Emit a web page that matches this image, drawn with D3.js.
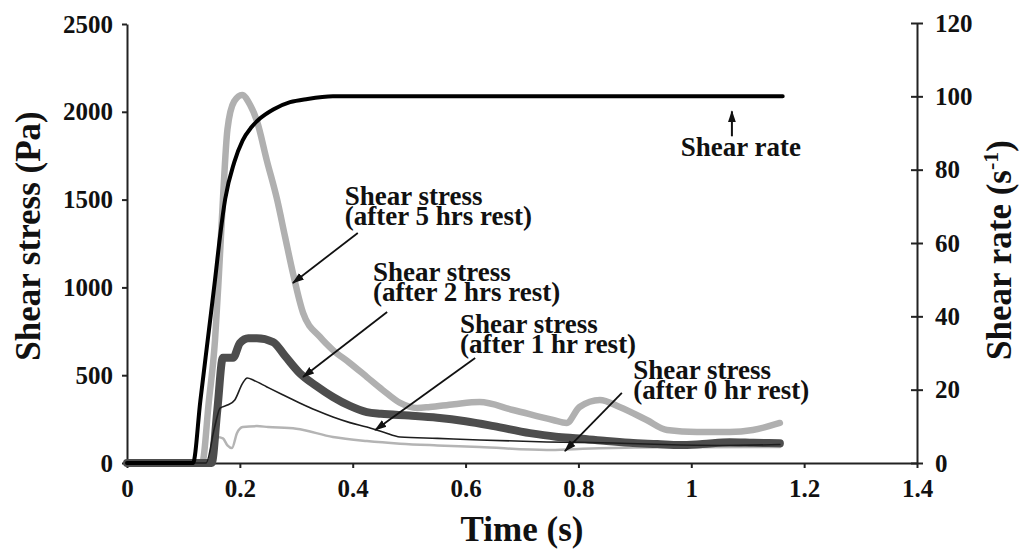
<!DOCTYPE html>
<html>
<head>
<meta charset="utf-8">
<script src="https://cdn.jsdelivr.net/npm/d3@7"></script>
<style>
  html, body { margin: 0; padding: 0; background: #fff; }
  .axis path, .axis line { stroke: #222; stroke-width: 2; }
</style>
</head>
<body>
<svg id="chart" width="1020" height="551"></svg>
<script>
// --- Data ---

const X_TICKS = [0, 0.2, 0.4, 0.6, 0.8, 1, 1.2, 1.4];
const STRESS_TICKS = [0, 500, 1000, 1500, 2000, 2500];
const RATE_TICKS = [0, 20, 40, 60, 80, 100, 120];

// shear rate (s-1)
const T_RATE = [0, 0.11, 0.117, 0.13, 0.145, 0.156, 0.165, 0.174, 0.19, 0.205, 0.22, 0.236, 0.26, 0.289, 0.32, 0.365, 0.5, 0.8, 1.0, 1.162];
const RATE = [0, 0, 0, 17, 36, 50, 62, 72, 82, 88, 91.5, 94, 96.5, 98.4, 99.3, 100, 100, 100, 100, 100];

// shear stress after 5 hrs rest (Pa)
const T_5HR = [0, 0.133, 0.145, 0.156, 0.163, 0.17, 0.178, 0.19, 0.204, 0.218, 0.23, 0.248, 0.266, 0.28, 0.294, 0.312, 0.342, 0.365, 0.395, 0.425, 0.453, 0.484, 0.514, 0.537, 0.58, 0.625, 0.684, 0.755, 0.779, 0.802, 0.838, 0.873, 0.921, 0.957, 1.01, 1.068, 1.109, 1.157];
const S_5HR = [0, 0, 350, 700, 1080, 1500, 1900, 2060, 2096, 2040, 1950, 1720, 1500, 1290, 1082, 855, 718, 643, 569, 490, 416, 342, 313, 319, 335, 347, 302, 245, 228, 319, 359, 319, 245, 188, 177, 177, 188, 228];

// shear stress after 2 hrs rest (Pa)
const T_2HR = [0, 0.15, 0.16, 0.17, 0.188, 0.2, 0.215, 0.23, 0.259, 0.28, 0.306, 0.335, 0.365, 0.395, 0.425, 0.45, 0.5, 0.55, 0.6, 0.65, 0.714, 0.76, 0.802, 0.85, 0.891, 0.94, 0.98, 1.02, 1.068, 1.11, 1.157];
const S_2HR = [0, 0, 300, 600, 600, 683, 711, 711, 689, 610, 512, 440, 376, 325, 290, 280, 270, 258, 238, 210, 170, 150, 140, 125, 115, 108, 102, 108, 118, 115, 112];

// shear stress after 1 hr rest (Pa)
const T_1HR = [0, 0.14, 0.155, 0.165, 0.178, 0.191, 0.205, 0.213, 0.225, 0.248, 0.275, 0.306, 0.335, 0.365, 0.395, 0.425, 0.455, 0.484, 0.55, 0.625, 0.744, 0.861, 0.95, 1.05, 1.157];
const S_1HR = [0, 0, 200, 313, 330, 359, 455, 484, 470, 433, 390, 342, 300, 262, 230, 205, 175, 148, 140, 131, 120, 114, 105, 100, 105];

// shear stress after 0 hr rest (Pa)
const T_0HR = [0, 0.145, 0.155, 0.16, 0.17, 0.178, 0.186, 0.195, 0.205, 0.23, 0.25, 0.3, 0.365, 0.425, 0.484, 0.55, 0.625, 0.744, 0.8, 0.9, 1.0, 1.157];
const S_0HR = [0, 0, 100, 148, 140, 100, 85, 171, 205, 210, 205, 195, 148, 125, 110, 100, 91, 74, 80, 88, 90, 91];

// annotation anchors, in data units (time, stress) or (time, rate)
const NOTE_LINES = [
  ["Shear stress", "(after 5 hrs rest)"],
  ["Shear stress", "(after 2 hrs rest)"],
  ["Shear stress", "(after 1 hr rest)"],
  ["Shear stress", "(after 0 hr rest)"],
];
const NOTE_AT = [[0.386, 1469], [0.436, 1036], [0.590, 740], [0.897, 478]];
const ARROW_FROM = [[0.409, 1310], [0.461, 860], [0.617, 598], [0.877, 399]];
const ARROW_TO = [[0.294, 1025], [0.312, 490], [0.440, 188], [0.776, 68]];

const RATE_NOTE_AT = [1.088, 83.6];
const RATE_ARROW = [[1.072, 89.1], [1.072, 95.9]];

// --- Layout ---

const FONT = '"Liberation Serif", "DejaVu Serif", serif';

const svg = d3.select("#chart");
const plotLeft = 127, plotRight = 917, plotTop = 23, plotBottom = 463;

const x = d3.scaleLinear().domain([0, 1.4]).range([plotLeft, plotRight]);
const yS = d3.scaleLinear().domain([0, 2500]).range([plotBottom, plotTop + 1]);
const yR = d3.scaleLinear().domain([0, 120]).range([plotBottom, plotTop]);

const defs = svg.append("defs");
defs.append("marker")
  .attr("id", "head")
  .attr("viewBox", "0 -5 12 10")
  .attr("refX", 11)
  .attr("refY", 0)
  .attr("markerUnits", "userSpaceOnUse")
  .attr("markerWidth", 12)
  .attr("markerHeight", 10)
  .attr("orient", "auto")
  .append("path")
  .attr("d", "M0,-4L12,0L0,4Z")
  .attr("fill", "#111");

// --- Axes ---

svg.append("g")
  .attr("class", "axis")
  .attr("transform", `translate(0,${plotBottom})`)
  .call(d3.axisBottom(x).tickValues(X_TICKS).tickFormat(d3.format("~g")).tickSize(5).tickSizeOuter(0).tickPadding(11));

svg.append("g")
  .attr("class", "axis")
  .attr("transform", `translate(${plotLeft},0)`)
  .call(d3.axisLeft(yS).tickValues(STRESS_TICKS).tickFormat(d3.format("d")).tickSize(5).tickSizeOuter(0).tickPadding(9));

const gr = svg.append("g")
  .attr("class", "axis")
  .attr("transform", `translate(${plotRight},0)`)
  .call(d3.axisRight(yR).tickValues(RATE_TICKS).tickFormat(d3.format("d")).tickSize(6).tickSizeOuter(0).tickPadding(12));
gr.selectAll(".tick line").attr("x1", -6);

svg.selectAll(".axis")
  .attr("font-family", FONT)
  .attr("font-size", 25);
svg.selectAll(".axis text")
  .attr("fill", "#111")
  .style("font-family", FONT)
  .style("font-weight", "bold")
  .style("font-size", "25px");
svg.selectAll(".axis .domain").attr("stroke-width", 2.2);

// --- Axis titles ---

function label(sel, size) {
  return sel
    .style("font-family", FONT)
    .style("font-weight", "bold")
    .style("font-size", size + "px")
    .attr("fill", "#111");
}

label(svg.append("text"), 35)
  .attr("x", 522)
  .attr("y", 541)
  .attr("text-anchor", "middle")
  .text("Time (s)");

label(svg.append("text"), 35)
  .attr("transform", "translate(40,236) rotate(-90)")
  .attr("text-anchor", "middle")
  .text("Shear stress (Pa)");

const rt = label(svg.append("text"), 35)
  .attr("transform", "translate(1011,250) rotate(-90)")
  .attr("text-anchor", "middle");
rt.append("tspan").text("Shear rate (s");
rt.append("tspan").attr("dy", -13).style("font-size", "22px").text("-1");
rt.append("tspan").attr("dy", 13).text(")");

// --- Curves ---

function drawSeries(ts, vs, scaleY, color, width) {
  const pts = ts.map((t, i) => [t, vs[i]]);
  svg.append("path")
    .datum(pts)
    .attr("fill", "none")
    .attr("stroke", color)
    .attr("stroke-width", width)
    .attr("stroke-linejoin", "round")
    .attr("stroke-linecap", "round")
    .attr("d", d3.line()
      .x((d) => x(d[0]))
      .y((d) => scaleY(d[1]))
      .curve(d3.curveMonotoneX));
}

drawSeries(T_0HR, S_0HR, yS, "#b4b4b4", 2.5);
drawSeries(T_5HR, S_5HR, yS, "#b0b0b0", 6.5);
drawSeries(T_2HR, S_2HR, yS, "#4d4d4d", 8);
drawSeries(T_1HR, S_1HR, yS, "#1e1e1e", 1.6);
drawSeries(T_RATE, RATE, yR, "#000", 4);

// --- Annotations ---

NOTE_LINES.forEach((lines, i) => {
  const t = label(svg.append("text"), 27)
    .attr("x", x(NOTE_AT[i][0]))
    .attr("y", yS(NOTE_AT[i][1]));
  lines.forEach((s, j) => {
    t.append("tspan")
      .attr("x", x(NOTE_AT[i][0]))
      .attr("dy", j === 0 ? 0 : 20)
      .text(s);
  });

  svg.append("line")
    .attr("x1", x(ARROW_FROM[i][0]))
    .attr("y1", yS(ARROW_FROM[i][1]))
    .attr("x2", x(ARROW_TO[i][0]))
    .attr("y2", yS(ARROW_TO[i][1]))
    .attr("stroke", "#111")
    .attr("stroke-width", 1.8)
    .attr("marker-end", "url(#head)");
});

label(svg.append("text"), 27)
  .attr("x", x(RATE_NOTE_AT[0]))
  .attr("y", yR(RATE_NOTE_AT[1]))
  .attr("text-anchor", "middle")
  .text("Shear rate");

svg.append("line")
  .attr("x1", x(RATE_ARROW[0][0]))
  .attr("y1", yR(RATE_ARROW[0][1]))
  .attr("x2", x(RATE_ARROW[1][0]))
  .attr("y2", yR(RATE_ARROW[1][1]))
  .attr("stroke", "#111")
  .attr("stroke-width", 2)
  .attr("marker-end", "url(#head)");
</script>
</body>
</html>
